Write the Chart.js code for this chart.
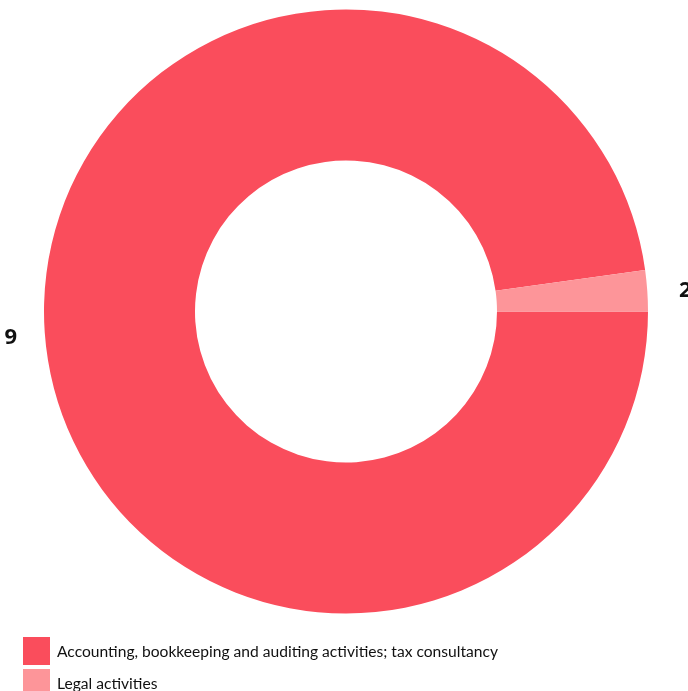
<!DOCTYPE html>
<html>
<head>
<meta charset="utf-8">
<script src="https://cdn.jsdelivr.net/npm/chart.js@4"></script>
<style>
  html, body { margin: 0; padding: 0; background: #fff; }
  #wrap { position: relative; width: 688px; height: 691px; overflow: hidden; }
  #legend { position: absolute; left: 23px; top: 635px; font-family: Lato, sans-serif; font-size: 15.6px; color: #111; }
  .item { display: flex; align-items: center; height: 32px; }
  .box { width: 27px; height: 28px; margin-right: 7px; }
</style>
</head>
<body>
<div id="wrap">
  <canvas id="donut" width="688" height="691"></canvas>
  <div id="legend"></div>
</div>
<script>
const categories = [
  'Accounting, bookkeeping and auditing activities; tax consultancy',
  'Legal activities'
];
// share of the ring
const values = [97.8, 2.2];
// labels as printed next to the ring
const valueLabels = ['9', '2'];
const colors = ['#FA4D5C', '#FD9599'];

// value labels outside the ring
const outerLabels = {
  id: 'outerLabels',
  afterDatasetsDraw(chart) {
    const ctx = chart.ctx;
    const meta = chart.getDatasetMeta(0);
    ctx.save();
    ctx.font = 'bold 22px "Open Sans", sans-serif';
    ctx.fillStyle = '#111';
    ctx.textAlign = 'center';
    ctx.textBaseline = 'middle';
    meta.data.forEach((arc, i) => {
      const mid = (arc.startAngle + arc.endAngle) / 2;
      const r = arc.outerRadius + 36;
      ctx.fillText(valueLabels[i], arc.x + 2 + Math.cos(mid) * r, arc.y + 3 + Math.sin(mid) * r);
    });
    ctx.restore();
  }
};

new Chart(document.getElementById('donut'), {
  type: 'doughnut',
  data: {
    labels: categories,
    datasets: [{
      data: values,
      backgroundColor: colors,
      borderWidth: 0
    }]
  },
  options: {
    responsive: false,
    animation: false,
    rotation: 90,
    cutout: '50%',
    layout: { padding: { left: 44, right: 40, top: 9.5, bottom: 77.5 } },
    plugins: {
      legend: { display: false },
      tooltip: { enabled: false }
    }
  },
  plugins: [outerLabels]
});

const legend = document.getElementById('legend');
categories.forEach((c, i) => {
  const row = document.createElement('div');
  row.className = 'item';
  row.innerHTML = '<span class="box" style="background:' + colors[i] + '"></span><span>' + c + '</span>';
  legend.appendChild(row);
});
</script>
</body>
</html>
